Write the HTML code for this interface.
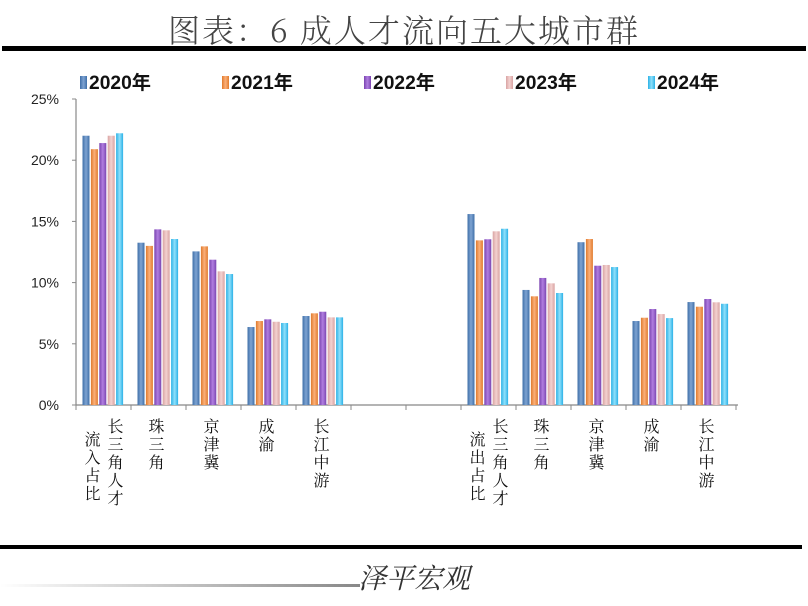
<!DOCTYPE html>
<html><head><meta charset="utf-8"><style>
body{margin:0;background:#fff;width:808px;height:601px;overflow:hidden;font-family:"Liberation Serif","Noto Serif CJK SC",serif}
</style></head><body>
<svg width="808" height="601" xmlns="http://www.w3.org/2000/svg">
<defs>
<linearGradient id="g0" x1="0" x2="1"><stop offset="0" stop-color="#3f6fa8"/><stop offset=".5" stop-color="#7ea3d2"/><stop offset="1" stop-color="#3f6fa8"/></linearGradient>
<linearGradient id="g1" x1="0" x2="1"><stop offset="0" stop-color="#e07a2c"/><stop offset=".5" stop-color="#fbb07a"/><stop offset="1" stop-color="#e07a2c"/></linearGradient>
<linearGradient id="g2" x1="0" x2="1"><stop offset="0" stop-color="#7a44b0"/><stop offset=".5" stop-color="#b07ee0"/><stop offset="1" stop-color="#7a44b0"/></linearGradient>
<linearGradient id="g3" x1="0" x2="1"><stop offset="0" stop-color="#d9a3a3"/><stop offset=".5" stop-color="#f3d2d0"/><stop offset="1" stop-color="#d9a3a3"/></linearGradient>
<linearGradient id="g4" x1="0" x2="1"><stop offset="0" stop-color="#2bb1e6"/><stop offset=".5" stop-color="#8fe0fb"/><stop offset="1" stop-color="#2bb1e6"/></linearGradient>
<linearGradient id="fl" x1="0" x2="1"><stop offset="0" stop-color="#fff"/><stop offset="1" stop-color="#888"/></linearGradient>
</defs>
<text x="404" y="42" text-anchor="middle" font-size="32" fill="#444" letter-spacing="2" textLength="472" lengthAdjust="spacing" font-family="'Noto Serif CJK SC','Liberation Serif',serif" font-weight="300">图表：6 成人才流向五大城市群</text>
<rect x="2" y="46" width="804" height="5" fill="#000"/>
<rect x="0" y="545" width="802" height="4" fill="#000"/>
<rect x="0" y="584" width="360" height="3" fill="url(#fl)"/>
<text x="358" y="588" font-size="28" font-style="italic" fill="#333" font-family="'Noto Serif CJK SC',serif">泽平宏观</text>
<g id="legend"></g>
<g id="axes"></g>
<g id="bars"></g>
<g id="labels"></g>
</svg>
<script>
const categories=["流入占比|长三角人才","珠三角","京津冀","成渝","长江中游","","","流出占比|长三角人才","珠三角","京津冀","成渝","长江中游"];
const seriesNames=["2020年","2021年","2022年","2023年","2024年"];
const s2020=[22.0,13.26,12.55,6.37,7.27,null,null,15.6,9.4,13.3,6.86,8.41];
const s2021=[20.9,13.0,12.96,6.86,7.49,null,null,13.45,8.88,13.56,7.13,8.03];
const s2022=[21.4,14.35,11.87,7.0,7.62,null,null,13.54,10.38,11.38,7.84,8.66];
const s2023=[22.0,14.27,10.92,6.8,7.16,null,null,14.19,9.94,11.44,7.43,8.39];
const s2024=[22.2,13.56,10.7,6.7,7.16,null,null,14.4,9.15,11.27,7.1,8.27];
const yTicks=[0,5,10,15,20,25];
const series=[s2020,s2021,s2022,s2023,s2024];
const NS="http://www.w3.org/2000/svg";
const x0=76,cw=55,y0=405,yTop=99,yMax=25;
const yS=v=>y0-(v/yMax)*(y0-yTop);
const xS=i=>x0+i*cw;
function mk(t,a,p){const e=document.createElementNS(NS,t);for(const k in a)e.setAttribute(k,a[k]);p.appendChild(e);return e;}
const ax=document.getElementById('axes');
let l=mk('line',{x1:x0,y1:yTop,x2:x0,y2:y0,stroke:'#888','stroke-width':1.2},ax);


l=mk('line',{x1:x0,y1:y0,x2:xS(categories.length)+2,y2:y0,stroke:'#888','stroke-width':1.2},ax);


yTicks.forEach(v=>{
 const tk=mk('line',{x1:x0-4,y1:yS(v),x2:x0,y2:yS(v),stroke:'#888'},ax);
 
 
 const t=mk('text',{x:x0-17,y:yS(v)+5,'text-anchor':'end','font-size':14,fill:'#222','font-family':'Liberation Sans, sans-serif'},ax);
 t.textContent=v+'%';
 
 
});
for(let i=0;i<=categories.length;i++){
 const tk=mk('line',{x1:xS(i),y1:y0,x2:xS(i),y2:y0+5,stroke:'#888'},ax);
 
 
}
const fills=['url(#g0)','url(#g1)','url(#g2)','url(#g3)','url(#g4)'];
const bg=document.getElementById('bars');
const bw=7,bstep=8.4;
categories.forEach((c,i)=>{
 series.forEach((s,k)=>{
  const v=s[i]; if(v==null)return;
  const r=mk('rect',{x:xS(i)+6.5+k*bstep,y:yS(v),width:bw,height:y0-yS(v),fill:fills[k]},bg);
  
  
 });
});
const lg=document.getElementById('labels');
function col(txt,x,y){
 [...txt].forEach((ch,j)=>{
  const t=mk('text',{x:x,y:y+j*18,'text-anchor':'middle','font-size':16,fill:'#111','font-family':"'Noto Serif CJK SC',serif"},lg);
  t.textContent=ch;
  
  
 });
}
categories.forEach((c,i)=>{
 if(!c)return;
 const cx=xS(i)+cw/2;
 if(c.includes('|')){const [a,b]=c.split('|');col(a,cx-11,445);col(b,cx+12,432);}
 else col(c,cx-2,432);
});
const lgd=document.getElementById('legend');
const lx=[80,222,364,506,648];
seriesNames.forEach((n,k)=>{
 const r=mk('rect',{x:lx[k],y:76,width:7,height:13,fill:fills[k]},lgd);
 
 
 const t=mk('text',{x:lx[k]+9,y:89,'font-size':19,'font-weight':'bold',fill:'#111','font-family':"'Liberation Sans','Noto Sans CJK SC',sans-serif",textLength:62,lengthAdjust:'spacingAndGlyphs'},lgd);
 t.textContent=n;
 
 
});
</script>
</body></html>
